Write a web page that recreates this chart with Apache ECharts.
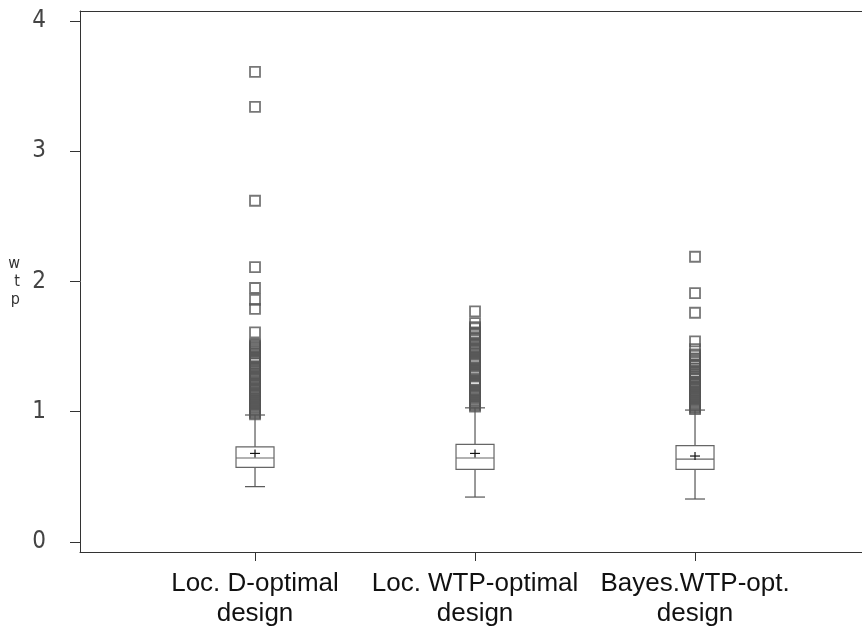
<!DOCTYPE html>
<html>
<head>
<meta charset="utf-8">
<script src="https://cdn.jsdelivr.net/npm/echarts@6/dist/echarts.min.js"></script>
<style>
  html, body { margin: 0; padding: 0; background: #fff; }
  #chart { width: 862px; height: 633px; }
</style>
</head>
<body>
<div id="chart"></div>
<script>
  // designs on the x axis (positions 1, 2, 3)
  const designs = ['Loc. D-optimal\ndesign', 'Loc. WTP-optimal\ndesign', 'Bayes.WTP-opt.\ndesign'];
  const designPos = [1, 2, 3];
  const yTicks = [0, 1, 2, 3, 4];

  // box statistics per design
  const boxMin = [0.425, 0.345, 0.33];
  const boxQ1 = [0.573, 0.558, 0.558];
  const boxMedian = [0.645, 0.645, 0.637];
  const boxQ3 = [0.73, 0.75, 0.74];
  const boxMax = [0.975, 1.03, 1.013];
  const boxMean = [0.68, 0.68, 0.66];

  // outliers
  const dOptOutliers = [3.61, 3.34, 2.62, 2.11, 1.95, 1.86, 1.79, 1.61,
    1.52, 1.51, 1.50, 1.49, 1.48, 1.47, 1.46, 1.45, 1.42, 1.41, 1.40, 1.39,
    1.37, 1.35, 1.34, 1.33, 1.31, 1.30, 1.29, 1.28, 1.27, 1.26, 1.25, 1.24,
    1.22, 1.21, 1.20, 1.18, 1.17, 1.16, 1.15, 1.14, 1.13, 1.12, 1.11, 1.10,
    1.09, 1.08, 1.07, 1.06, 1.05, 1.04, 1.03, 1.02, 1.01, 1.00, 0.99, 0.98];
  const wtpOptOutliers = [1.77, 1.68, 1.65, 1.64, 1.61, 1.60, 1.59, 1.56, 1.55,
    1.52, 1.51, 1.50, 1.49, 1.48, 1.47, 1.46, 1.45, 1.42, 1.41, 1.40, 1.39,
    1.38, 1.37, 1.36, 1.33, 1.32, 1.31, 1.30, 1.29, 1.28, 1.27, 1.24, 1.23,
    1.22, 1.21, 1.20, 1.17, 1.16, 1.15, 1.14, 1.13, 1.12, 1.11, 1.10, 1.09,
    1.08, 1.07, 1.06, 1.05, 1.04];
  const bayesOutliers = [2.19, 1.91, 1.76, 1.54, 1.48, 1.44, 1.43, 1.41, 1.39,
    1.38, 1.36, 1.35, 1.33, 1.31, 1.30, 1.29, 1.27, 1.26, 1.25, 1.23, 1.22,
    1.21, 1.20, 1.19, 1.18, 1.17, 1.16, 1.15, 1.14, 1.13, 1.12, 1.11, 1.10,
    1.09, 1.08, 1.07, 1.06, 1.05, 1.04, 1.03, 1.02];

  const boxData = designPos.map((x, i) =>
    [x, boxMin[i], boxQ1[i], boxMedian[i], boxQ3[i], boxMax[i], boxMean[i]]);
  const outlierData = [];
  [dOptOutliers, wtpOptOutliers, bayesOutliers].forEach((arr, i) => {
    arr.forEach(v => outlierData.push([designPos[i], v]));
  });

  const lineStyle = { stroke: '#555', lineWidth: 1.2 };

  function renderBox(params, api) {
    const x = api.value(0);
    const pMin = api.coord([x, api.value(1)]);
    const pQ1 = api.coord([x, api.value(2)]);
    const pMed = api.coord([x, api.value(3)]);
    const pQ3 = api.coord([x, api.value(4)]);
    const pMax = api.coord([x, api.value(5)]);
    const pMean = api.coord([x, api.value(6)]);
    const cx = pMed[0];
    const hw = 19, cw = 10;
    const ln = (x1, y1, x2, y2, st) => ({
      type: 'line', shape: { x1, y1, x2, y2 }, style: st || lineStyle
    });
    return {
      type: 'group',
      children: [
        ln(cx, pQ3[1], cx, pMax[1]),
        ln(cx - cw, pMax[1], cx + cw, pMax[1]),
        ln(cx, pQ1[1], cx, pMin[1]),
        ln(cx - cw, pMin[1], cx + cw, pMin[1]),
        {
          type: 'rect',
          shape: { x: cx - hw, y: pQ3[1], width: hw * 2, height: pQ1[1] - pQ3[1] },
          style: { fill: '#fff', stroke: '#666', lineWidth: 1.2 }
        },
        ln(cx - hw, pMed[1], cx + hw, pMed[1], { stroke: '#666', lineWidth: 1.2 }),
        ln(cx - 5, pMean[1], cx + 5, pMean[1], { stroke: '#111', lineWidth: 1.2 }),
        ln(cx, pMean[1] - 4, cx, pMean[1] + 4, { stroke: '#111', lineWidth: 1.2 })
      ]
    };
  }

  const xMin = 0.2045;
  const xMax = 3.759;

  const chart = echarts.init(document.getElementById('chart'));
  const option = {
    animation: false,
    grid: {
      left: 80, right: 0, top: 11, bottom: 81,
      outerBoundsMode: 'none',
      show: false
    },
    xAxis: [
      {
        type: 'value',
        min: xMin,
        max: xMax,
        splitLine: { show: false },
        axisLine: { onZero: false, lineStyle: { color: '#333' } },
        axisTick: { customValues: designPos, length: 9, lineStyle: { color: '#333' } },
        axisLabel: {
          customValues: designPos,
          formatter: v => designs[Math.round(v) - 1],
          fontFamily: 'Liberation Sans, Arial, sans-serif',
          fontSize: 26,
          lineHeight: 30,
          color: '#111',
          margin: 17
        }
      },
      {
        // frame line along the top
        type: 'value',
        position: 'top',
        min: xMin,
        max: xMax,
        splitLine: { show: false },
        axisLine: { onZero: false, lineStyle: { color: '#333' } },
        axisTick: { show: false },
        axisLabel: { show: false }
      }
    ],
    yAxis: {
      type: 'value',
      min: -0.0768,
      max: 4.0768,
      name: 'w\nt\np',
      nameLocation: 'middle',
      nameRotate: 0,
      nameGap: 60,
      nameTextStyle: {
        fontFamily: 'Liberation Sans Narrow, DejaVu Sans Condensed, sans-serif',
        fontSize: 16, lineHeight: 18, color: '#333'
      },
      splitLine: { show: false },
      axisLine: { onZero: false, lineStyle: { color: '#333' } },
      axisTick: { customValues: yTicks, length: 10, lineStyle: { color: '#333' } },
      axisLabel: {
        customValues: yTicks,
        fontFamily: 'Liberation Sans Narrow, DejaVu Sans Condensed, sans-serif',
        fontSize: 24,
        color: '#444',
        margin: 34
      }
    },
    series: [
      {
        type: 'scatter',
        data: outlierData,
        symbol: 'rect',
        symbolSize: 10,
        itemStyle: { color: 'rgba(0,0,0,0)', borderColor: '#555', borderWidth: 1.8 },
        z: 2
      },
      {
        type: 'custom',
        data: boxData,
        renderItem: renderBox,
        encode: { x: 0, y: [1, 2, 3, 4, 5, 6] },
        z: 3
      }
    ]
  };
  chart.setOption(option);
</script>
</body>
</html>
